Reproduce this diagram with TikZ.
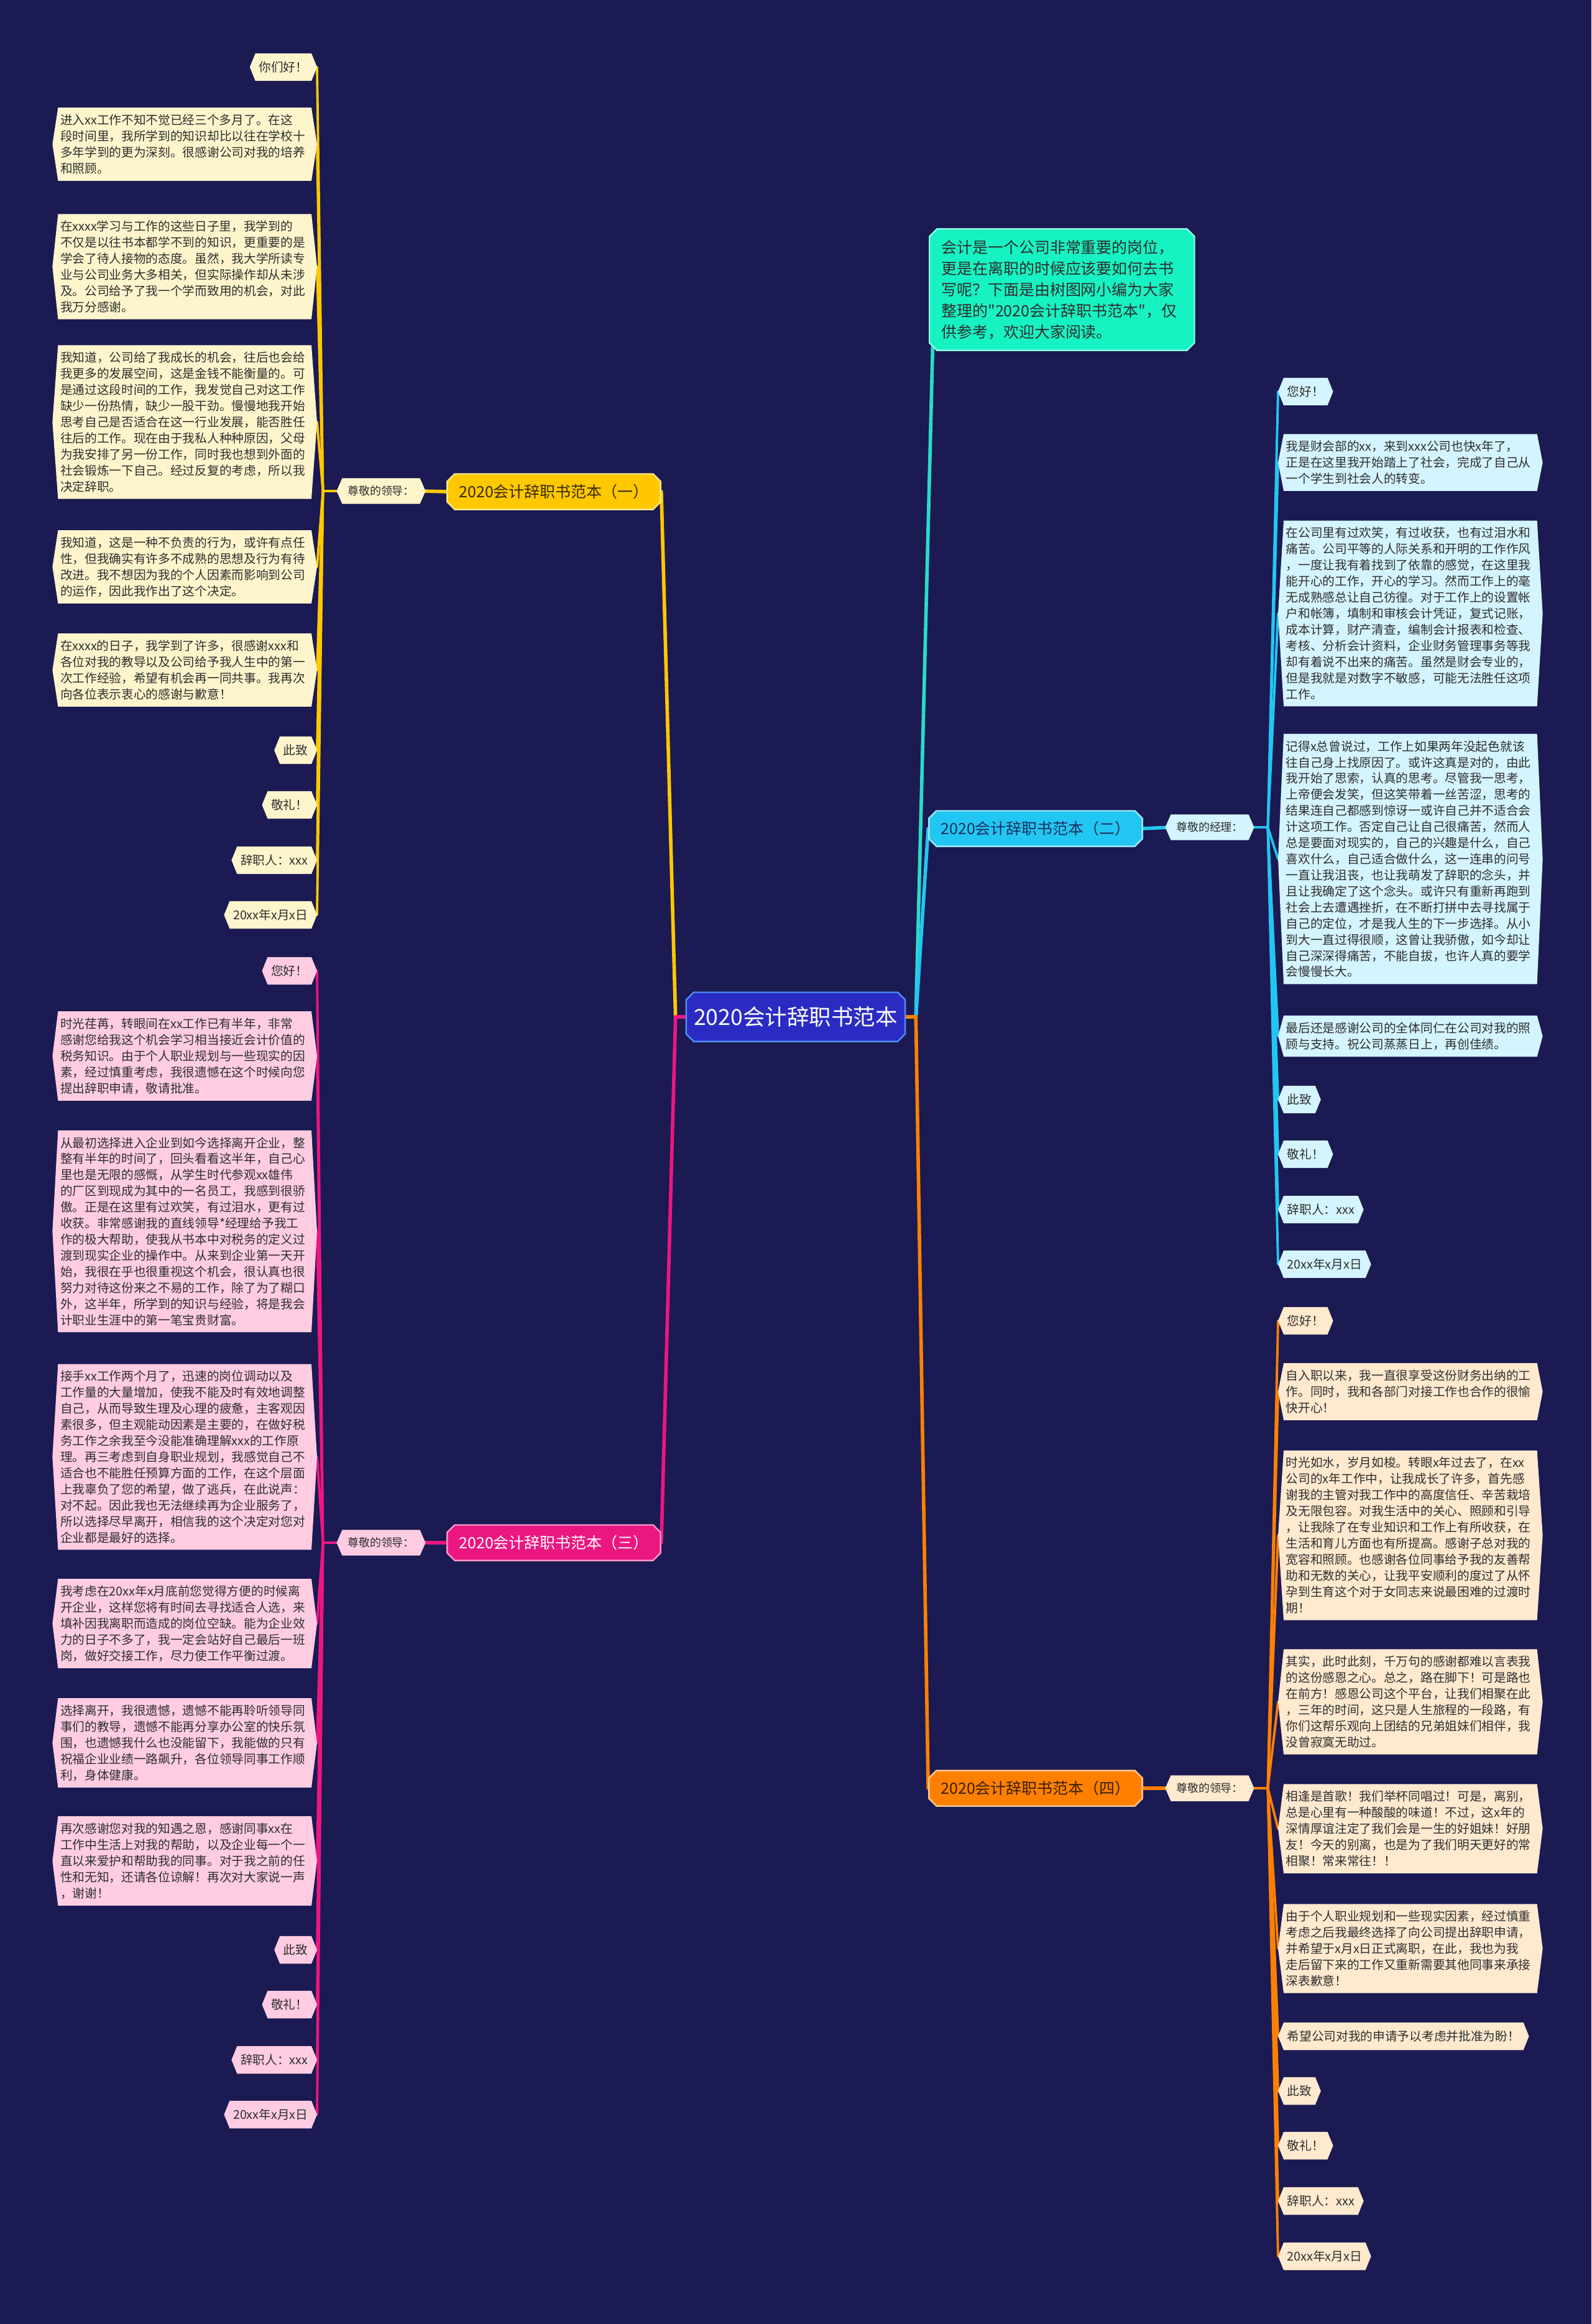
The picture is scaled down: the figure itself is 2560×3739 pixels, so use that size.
\documentclass[tikz,border=0pt]{standalone}
\usepackage{fontspec}
\setmainfont{Noto Sans CJK SC}[Ligatures=TeXOff]
\usepackage{xcolor}
\usepackage{tikz}
\usetikzlibrary{shapes.misc,backgrounds,calc}

\definecolor{bgnavy}{HTML}{1B1A52}
\definecolor{rootblue}{HTML}{2B2BC4}
\definecolor{rootline}{HTML}{4D8FF2}
\definecolor{yelmain}{HTML}{FFC800}
\definecolor{yelleaf}{HTML}{FFF5CC}
\definecolor{yeltext}{HTML}{3A2A00}
\definecolor{cyanmain}{HTML}{22C6F2}
\definecolor{cyanleaf}{HTML}{D4F4FF}
\definecolor{cyantext}{HTML}{1D2F5F}
\definecolor{pinkmain}{HTML}{EC1680}
\definecolor{pinkleaf}{HTML}{FFCCE2}
\definecolor{orgmain}{HTML}{FF8000}
\definecolor{orgleaf}{HTML}{FFE9CF}
\definecolor{orgtext}{HTML}{3A1E00}
\definecolor{summint}{HTML}{17F2C2}
\definecolor{sumline}{HTML}{2ADBC9}
\definecolor{leaftext}{HTML}{2E2E2E}

% pointed leaf shape behind a node
\newcommand{\hexfill}[2]{%
  \fill[#2] (#1.north west) -- (#1.north east) -- ([xshift=0.09cm]#1.east)
    -- (#1.south east) -- (#1.south west) -- ([xshift=-0.09cm]#1.west) -- cycle;}

\begin{document}
\begin{tikzpicture}[x=0.01cm,y=-0.01cm,
    every node/.style={text=leaftext},
    para/.style={inner xsep=0.03cm,inner ysep=0.1cm,text width=4cm,align=left,
      font=\fontsize{5.6pt}{7.37pt}\selectfont},
    tag/.style={inner xsep=0.05cm,inner ysep=0.05cm,minimum height=0.43cm,
      font=\fontsize{5.6pt}{7.37pt}\selectfont},
    lbl/.style={inner xsep=0.08cm,inner ysep=0.05cm,minimum height=0.4cm,
      font=\fontsize{5.1pt}{6pt}\selectfont},
    branch/.style={chamfered rectangle,chamfered rectangle xsep=0.06cm,
      chamfered rectangle ysep=0.06cm,line width=0.7pt,inner sep=0pt,
      minimum width=3.43cm,minimum height=0.57cm,
      font=\fontsize{7.1pt}{8.5pt}\selectfont},
    link/.style={line width=1.6pt,line cap=round,line join=round},
    twig/.style={line width=1.1pt,line cap=round,line join=round}]

  \useasboundingbox (0,0) rectangle (2560,3739);
  \begin{scope}[on background layer]
    \fill[bgnavy] (0,0) rectangle (2560,3739);
  \end{scope}

  % centre and summary
  \node[branch,fill=rootblue,draw=rootline,text=white,minimum width=3.52cm,
    minimum height=0.79cm,font=\fontsize{10.1pt}{12pt}\selectfont]
    (root) at (1280,1636) {2020会计辞职书范本};
  \node[chamfered rectangle,chamfered rectangle xsep=0.06cm,
    chamfered rectangle ysep=0.06cm,fill=summint,draw=summint!50!white,
    line width=0.7pt,anchor=west,text width=3.88cm,inner xsep=0.13cm,
    minimum height=1.94cm,align=left,font=\fontsize{7.1pt}{9.67pt}\selectfont]
    (sum) at (1494,466) {会计是一个公司非常重要的岗位，\\更是在离职的时候应该要如何去书\\写呢？下面是由树图网小编为大家\\整理的"2020会计辞职书范本"，仅\\供参考，欢迎大家阅读。};

  % branch nodes
  \node[branch,fill=yelmain,draw=yelmain!45!white,text=yeltext] (b1) at (891,791) {2020会计辞职书范本（一）};
  \node[branch,fill=cyanmain,draw=cyanmain!45!white,text=cyantext] (b2) at (1666,1333) {2020会计辞职书范本（二）};
  \node[branch,fill=pinkmain,draw=pinkmain!45!white,text=white] (b3) at (891,2482) {2020会计辞职书范本（三）};
  \node[branch,fill=orgmain,draw=orgmain!45!white,text=orgtext] (b4) at (1666,2877) {2020会计辞职书范本（四）};

  \node[lbl] (l1) at (613,790) {尊敬的领导：};
  \node[lbl] (l2) at (1946,1331) {尊敬的经理：};
  \node[lbl] (l3) at (613,2482) {尊敬的领导：};
  \node[lbl] (l4) at (1946,2877) {尊敬的领导：};

  % branch one
  \node[tag,anchor=east] (a1) at (501,108) {你们好！};
  \node[para,anchor=east] (a2) at (501,232) {进入xx工作不知不觉已经三个多月了。在这\\段时间里，我所学到的知识却比以往在学校十\\多年学到的更为深刻。很感谢公司对我的培养\\和照顾。};
  \node[para,anchor=east] (a3) at (501,429) {在xxxx学习与工作的这些日子里，我学到的\\不仅是以往书本都学不到的知识，更重要的是\\学会了待人接物的态度。虽然，我大学所读专\\业与公司业务大多相关，但实际操作却从未涉\\及。公司给予了我一个学而致用的机会，对此\\我万分感谢。};
  \node[para,anchor=east] (a4) at (501,679) {我知道，公司给了我成长的机会，往后也会给\\我更多的发展空间，这是金钱不能衡量的。可\\是通过这段时间的工作，我发觉自己对这工作\\缺少一份热情，缺少一股干劲。慢慢地我开始\\思考自己是否适合在这一行业发展，能否胜任\\往后的工作。现在由于我私人种种原因，父母\\为我安排了另一份工作，同时我也想到外面的\\社会锻炼一下自己。经过反复的考虑，所以我\\决定辞职。};
  \node[para,anchor=east] (a5) at (501,912) {我知道，这是一种不负责的行为，或许有点任\\性，但我确实有许多不成熟的思想及行为有待\\改进。我不想因为我的个人因素而影响到公司\\的运作，因此我作出了这个决定。};
  \node[para,anchor=east] (a6) at (501,1078) {在xxxx的日子，我学到了许多，很感谢xxx和\\各位对我的教导以及公司给予我人生中的第一\\次工作经验，希望有机会再一同共事。我再次\\向各位表示衷心的感谢与歉意！};
  \node[tag,anchor=east] (a7) at (501,1207) {此致};
  \node[tag,anchor=east] (a8) at (501,1295) {敬礼！};
  \node[tag,anchor=east] (a9) at (501,1384) {辞职人：xxx};
  \node[tag,anchor=east] (a10) at (501,1472) {20xx年x月x日};

  % branch two
  \node[tag,anchor=west] (d1) at (2065,630) {您好！};
  \node[para,anchor=west] (d2) at (2065,744) {我是财会部的xx，来到xxx公司也快x年了，\\正是在这里我开始踏上了社会，完成了自己从\\一个学生到社会人的转变。};
  \node[para,anchor=west] (d3) at (2065,987) {在公司里有过欢笑，有过收获，也有过泪水和\\痛苦。公司平等的人际关系和开明的工作作风\\，一度让我有着找到了依靠的感觉，在这里我\\能开心的工作，开心的学习。然而工作上的毫\\无成熟感总让自己彷徨。对于工作上的设置帐\\户和帐簿，填制和审核会计凭证，复式记账，\\成本计算，财产清查，编制会计报表和检查、\\考核、分析会计资料，企业财务管理事务等我\\却有着说不出来的痛苦。虽然是财会专业的，\\但是我就是对数字不敏感，可能无法胜任这项\\工作。};
  \node[para,anchor=west] (d4) at (2065,1382) {记得x总曾说过，工作上如果两年没起色就该\\往自己身上找原因了。或许这真是对的，由此\\我开始了思索，认真的思考。尽管我一思考，\\上帝便会发笑，但这笑带着一丝苦涩，思考的\\结果连自己都感到惊讶一或许自己并不适合会\\计这项工作。否定自己让自己很痛苦，然而人\\总是要面对现实的，自己的兴趣是什么，自己\\喜欢什么，自己适合做什么，这一连串的问号\\一直让我沮丧，也让我萌发了辞职的念头，并\\且让我确定了这个念头。或许只有重新再跑到\\社会上去遭遇挫折，在不断打拼中去寻找属于\\自己的定位，才是我人生的下一步选择。从小\\到大一直过得很顺，这曾让我骄傲，如今却让\\自己深深得痛苦，不能自拔，也许人真的要学\\会慢慢长大。};
  \node[para,anchor=west] (d5) at (2065,1667) {最后还是感谢公司的全体同仁在公司对我的照\\顾与支持。祝公司蒸蒸日上，再创佳绩。};
  \node[tag,anchor=west] (d6) at (2065,1769) {此致};
  \node[tag,anchor=west] (d7) at (2065,1857) {敬礼！};
  \node[tag,anchor=west] (d8) at (2065,1946) {辞职人：xxx};
  \node[tag,anchor=west] (d9) at (2065,2034) {20xx年x月x日};

  % branch three
  \node[tag,anchor=east] (c1) at (501,1562) {您好！};
  \node[para,anchor=east] (c2) at (501,1699) {时光荏苒，转眼间在xx工作已有半年，非常\\感谢您给我这个机会学习相当接近会计价值的\\税务知识。由于个人职业规划与一些现实的因\\素，经过慎重考虑，我很遗憾在这个时候向您\\提出辞职申请，敬请批准。};
  \node[para,anchor=east] (c3) at (501,1981) {从最初选择进入企业到如今选择离开企业，整\\整有半年的时间了，回头看看这半年，自己心\\里也是无限的感慨，从学生时代参观xx雄伟\\的厂区到现成为其中的一名员工，我感到很骄\\傲。正是在这里有过欢笑，有过泪水，更有过\\收获。非常感谢我的直线领导*经理给予我工\\作的极大帮助，使我从书本中对税务的定义过\\渡到现实企业的操作中。从来到企业第一天开\\始，我很在乎也很重视这个机会，很认真也很\\努力对待这份来之不易的工作，除了为了糊口\\外，这半年，所学到的知识与经验，将是我会\\计职业生涯中的第一笔宝贵财富。};
  \node[para,anchor=east] (c4) at (501,2344) {接手xx工作两个月了，迅速的岗位调动以及\\工作量的大量增加，使我不能及时有效地调整\\自己，从而导致生理及心理的疲惫，主客观因\\素很多，但主观能动因素是主要的，在做好税\\务工作之余我至今没能准确理解xxx的工作原\\理。再三考虑到自身职业规划，我感觉自己不\\适合也不能胜任预算方面的工作，在这个层面\\上我辜负了您的希望，做了逃兵，在此说声：\\对不起。因此我也无法继续再为企业服务了，\\所以选择尽早离开，相信我的这个决定对您对\\企业都是最好的选择。};
  \node[para,anchor=east] (c5) at (501,2612) {我考虑在20xx年x月底前您觉得方便的时候离\\开企业，这样您将有时间去寻找适合人选，来\\填补因我离职而造成的岗位空缺。能为企业效\\力的日子不多了，我一定会站好自己最后一班\\岗，做好交接工作，尽力使工作平衡过渡。};
  \node[para,anchor=east] (c6) at (501,2804) {选择离开，我很遗憾，遗憾不能再聆听领导同\\事们的教导，遗憾不能再分享办公室的快乐氛\\围，也遗憾我什么也没能留下，我能做的只有\\祝福企业业绩一路飙升，各位领导同事工作顺\\利，身体健康。};
  \node[para,anchor=east] (c7) at (501,2994) {再次感谢您对我的知遇之恩，感谢同事xx在\\工作中生活上对我的帮助，以及企业每一个一\\直以来爱护和帮助我的同事。对于我之前的任\\性和无知，还请各位谅解！再次对大家说一声\\，谢谢！};
  \node[tag,anchor=east] (c8) at (501,3137) {此致};
  \node[tag,anchor=east] (c9) at (501,3225) {敬礼！};
  \node[tag,anchor=east] (c10) at (501,3314) {辞职人：xxx};
  \node[tag,anchor=east] (c11) at (501,3402) {20xx年x月x日};

  % branch four
  \node[tag,anchor=west] (e1) at (2065,2125) {您好！};
  \node[para,anchor=west] (e2) at (2065,2239) {自入职以来，我一直很享受这份财务出纳的工\\作。同时，我和各部门对接工作也合作的很愉\\快开心！};
  \node[para,anchor=west] (e3) at (2065,2470) {时光如水，岁月如梭。转眼x年过去了，在xx\\公司的x年工作中，让我成长了许多，首先感\\谢我的主管对我工作中的高度信任、辛苦栽培\\及无限包容。对我生活中的关心、照顾和引导\\，让我除了在专业知识和工作上有所收获，在\\生活和育儿方面也有所提高。感谢子总对我的\\宽容和照顾。也感谢各位同事给予我的友善帮\\助和无数的关心，让我平安顺利的度过了从怀\\孕到生育这个对于女同志来说最困难的过渡时\\期！};
  \node[para,anchor=west] (e4) at (2065,2738) {其实，此时此刻，千万句的感谢都难以言表我\\的这份感恩之心。总之，路在脚下！可是路也\\在前方！感恩公司这个平台，让我们相聚在此\\，三年的时间，这只是人生旅程的一段路，有\\你们这帮乐观向上团结的兄弟姐妹们相伴，我\\没曾寂寞无助过。};
  \node[para,anchor=west] (e5) at (2065,2942) {相逢是首歌！我们举杯同唱过！可是，离别，\\总是心里有一种酸酸的味道！不过，这x年的\\深情厚谊注定了我们会是一生的好姐妹！好朋\\友！今天的别离，也是为了我们明天更好的常\\相聚！常来常往！！};
  \node[para,anchor=west] (e6) at (2065,3135) {由于个人职业规划和一些现实因素，经过慎重\\考虑之后我最终选择了向公司提出辞职申请，\\并希望于x月x日正式离职，在此，我也为我\\走后留下来的工作又重新需要其他同事来承接\\深表歉意！};
  \node[tag,anchor=west] (e7) at (2065,3276) {希望公司对我的申请予以考虑并批准为盼！};
  \node[tag,anchor=west] (e8) at (2065,3364) {此致};
  \node[tag,anchor=west] (e9) at (2065,3452) {敬礼！};
  \node[tag,anchor=west] (e10) at (2065,3541) {辞职人：xxx};
  \node[tag,anchor=west] (e11) at (2065,3630) {20xx年x月x日};

  \begin{scope}[on background layer]
    % centre to branches
    \draw[link,yelmain] (root.west) -- ++(-16,0) -- (b1.east);
    \draw[link,pinkmain] (root.west) -- ++(-16,0) -- (b3.east);
    \draw[link,sumline] (root.east) -- ++(16,0) -- (sum.south west);
    \draw[link,cyanmain] (root.east) -- ++(16,0) -- (b2.west);
    \draw[link,orgmain] (root.east) -- ++(16,0) -- (b4.west);
    % branches to labels
    \draw[link,yelmain] (b1.west) -- (l1.east);
    \draw[link,cyanmain] (b2.east) -- (l2.west);
    \draw[link,pinkmain] (b3.west) -- (l3.east);
    \draw[link,orgmain] (b4.east) -- (l4.west);
    % labels to leaves
    \foreach \i in {1,...,10}
      \draw[twig,yelmain] ([xshift=-0.09cm]l1.west) -- ++(-22,0) -- ([xshift=0.09cm]a\i.east);
    \foreach \i in {1,...,11}
      \draw[twig,pinkmain] ([xshift=-0.09cm]l3.west) -- ++(-22,0) -- ([xshift=0.09cm]c\i.east);
    \foreach \i in {1,...,9}
      \draw[twig,cyanmain] ([xshift=0.09cm]l2.east) -- ++(22,0) -- ([xshift=-0.09cm]d\i.west);
    \foreach \i in {1,...,11}
      \draw[twig,orgmain] ([xshift=0.09cm]l4.east) -- ++(22,0) -- ([xshift=-0.09cm]e\i.west);
    % leaf shapes
    \foreach \i in {1,...,10} {\hexfill{a\i}{yelleaf}}
    \foreach \i in {1,...,11} {\hexfill{c\i}{pinkleaf}}
    \foreach \i in {1,...,9} {\hexfill{d\i}{cyanleaf}}
    \foreach \i in {1,...,11} {\hexfill{e\i}{orgleaf}}
    \hexfill{l1}{yelleaf}
    \hexfill{l2}{cyanleaf}
    \hexfill{l3}{pinkleaf}
    \hexfill{l4}{orgleaf}
  \end{scope}
\end{tikzpicture}
\end{document}
